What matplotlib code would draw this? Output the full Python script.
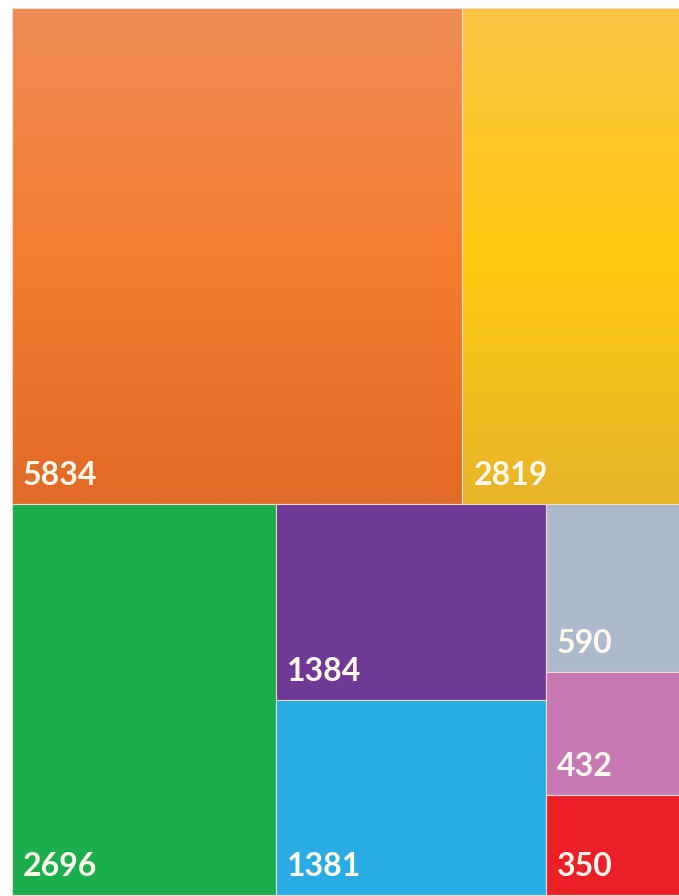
import matplotlib
matplotlib.use("Agg")
import matplotlib.pyplot as plt
import numpy as np
from matplotlib.colors import LinearSegmentedColormap
from matplotlib.patches import Rectangle

# values of the treemap tiles
values = [5834, 2819, 2696, 1384, 1381, 590, 432, 350]
labels = [str(v) for v in values]
colors = ['#EE7A35', '#FCC21E', '#1BAE4D', '#6F3996', '#29ACE3', '#ADBACB', '#C779B3', '#EC1F27']
# gradient stops for the tiles that are shaded (top -> bottom)
gradients = {
    0: ['#EF8C56', '#F47D31', '#E06A27'],
    1: ['#FDC445', '#FFC810', '#E8B52A'],
}
# grouping of the tiles: rows, then columns inside each row
layout = [[[0], [1]], [[2], [3, 4], [5, 6, 7]]]

fig = plt.figure(figsize=(6.79, 8.96), dpi=100)
ax = fig.add_axes([0, 0, 1, 1])
ax.set_xlim(0, 679)
ax.set_ylim(896, 0)
ax.axis('off')

X0, X1, Y0, Y1 = 12, 680, 8, 895
W, H = X1 - X0, Y1 - Y0
total = sum(values)
edge = '#EADCCF'

y = Y0
for row in layout:
    row_sum = sum(values[i] for col in row for i in col)
    row_h = H * row_sum / total
    x = X0
    for col in row:
        col_sum = sum(values[i] for i in col)
        col_w = W * col_sum / row_sum
        cy = y
        for i in col:
            h = row_h * values[i] / col_sum
            if i in gradients:
                cmap = LinearSegmentedColormap.from_list('g%d' % i, gradients[i])
                grad = np.linspace(0, 1, 256).reshape(-1, 1)
                ax.imshow(grad, cmap=cmap, extent=(x, x + col_w, cy + h, cy),
                          origin='upper', aspect='auto', interpolation='bilinear')
                ax.add_patch(Rectangle((x, cy), col_w, h, facecolor='none',
                                       edgecolor=edge, linewidth=0.8))
            else:
                ax.add_patch(Rectangle((x, cy), col_w, h, facecolor=colors[i],
                                       edgecolor=edge, linewidth=0.8))
            ax.text(x + 11, cy + h - 19, labels[i], ha='left', va='baseline',
                    fontsize=23, fontweight='bold', color='#FFF9EE',
                    family=['Lato', 'DejaVu Sans'])
            cy += h
        x += col_w
    y += row_h

ax.set_xlim(0, 679)
ax.set_ylim(896, 0)
fig.savefig('out.png', dpi=100)
